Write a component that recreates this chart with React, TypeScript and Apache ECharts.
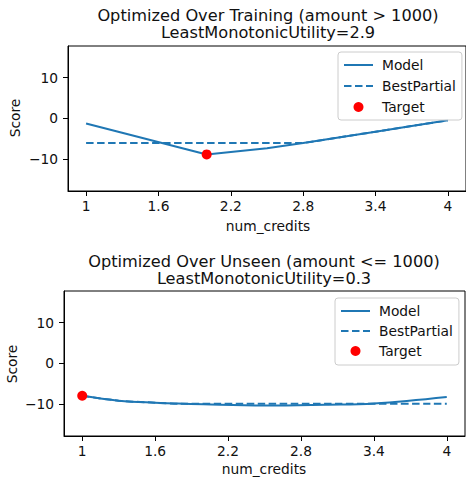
import React, { useEffect, useRef } from "react";
import * as echarts from "echarts";

const xTicks = [1, 1.6, 2.2, 2.8, 3.4, 4];
const yTicks = [-10, 0, 10];

const topX = [1, 2, 2.5, 2.8, 3.4, 4];
const topModel = [-1.3, -8.9, -7.4, -6.1, -3.3, -0.5];
const topBestX = [1, 2.8, 3.4, 4];
const topBest = [-6.1, -6.1, -3.3, -0.5];
const topTarget = [2, -8.9];

const botX = [1, 1.3, 1.6, 2.0, 2.5, 3.0, 3.4, 4];
const botModel = [-8.0, -9.2, -9.7, -10.1, -10.4, -10.2, -9.9, -8.3];
const botBestX = [1, 1.3, 1.6, 1.8, 4];
const botBest = [-8.0, -9.2, -9.7, -9.95, -9.95];
const botTarget = [1, -8.0];

const titles = [
  ["Optimized Over Training (amount > 1000)", "LeastMonotonicUtility=2.9"],
  ["Optimized Over Unseen (amount <= 1000)", "LeastMonotonicUtility=0.3"],
];
const legendNames = ["Model", "BestPartial", "Target"];

const FONT = "DejaVu Sans";
const BLUE = "#1f77b4";
const FS = 13.8;
const TFS = 16.2;

const fmt = (v: number) => (v < 0 ? "\u2212" + Math.abs(v) : String(v));
const zip = (xs: number[], ys: number[]) => xs.map((x, i) => [x, ys[i]]);

export default function App() {
  const ref = useRef<HTMLDivElement>(null);
  useEffect(() => {
    const chart = echarts.init(ref.current!, null, { renderer: "svg" });
    const grids = [
      { left: 68, top: 46, width: 401, height: 145 },
      { left: 64, top: 291, width: 401, height: 145 },
    ];
    const mkX = (i: number) => ({
      type: "value",
      gridIndex: i,
      min: 0.85,
      max: 4.15,
      axisLine: { show: true, onZero: false, lineStyle: { color: "#000", width: 1 } },
      axisTick: { show: true, length: 5, customValues: xTicks, lineStyle: { color: "#000" } },
      axisLabel: {
        customValues: xTicks,
        margin: 8,
        color: "#111",
        fontFamily: FONT,
        fontSize: FS,
        formatter: (v: number) => fmt(v),
      },
      splitLine: { show: false },
    });
    const mkY = (i: number) => ({
      type: "value",
      gridIndex: i,
      min: -17.9,
      max: 17.8,
      axisLine: { show: true, onZero: false, lineStyle: { color: "#000", width: 1 } },
      axisTick: { show: true, length: 5, customValues: yTicks, lineStyle: { color: "#000" } },
      axisLabel: {
        customValues: yTicks,
        margin: 10,
        color: "#111",
        fontFamily: FONT,
        fontSize: FS,
        formatter: (v: number) => fmt(v),
      },
      splitLine: { show: false },
    });
    const mkLegend = (left: number, top: number, gap: number, padding: number[]) => ({
      orient: "vertical",
      left,
      top,
      data: legendNames.map((n) =>
        n === "Target" ? { name: n } : { name: n, itemStyle: { opacity: 0, color: "transparent", borderWidth: 0 } }
      ),
      itemWidth: 29,
      itemHeight: 10,
      itemGap: gap,
      padding,
      backgroundColor: "rgba(255,255,255,0.8)",
      borderColor: "#cccccc",
      borderWidth: 1,
      borderRadius: 3,
      textStyle: { fontFamily: FONT, fontSize: FS, color: "#111", padding: [0, 0, 0, 4] },
    });
    const lineSeries = (name: string, xi: number, data: number[][], dashed: boolean, smooth: any) => ({
      name,
      type: "line",
      xAxisIndex: xi,
      yAxisIndex: xi,
      data,
      symbol: "none",
      smooth,
      lineStyle: { color: BLUE, width: 2, type: dashed ? [7.5, 3.5] : "solid" },
      itemStyle: { color: BLUE },
      z: dashed ? 3 : 2,
    });
    const scatterSeries = (xi: number, pt: number[]) => ({
      name: "Target",
      type: "scatter",
      xAxisIndex: xi,
      yAxisIndex: xi,
      data: [pt],
      symbol: "circle",
      symbolSize: 10,
      itemStyle: { color: "#ff0000", opacity: 1 },
      z: 5,
    });
    const text = (t: string, x: number, y: number, size: number, rot = 0) => ({
      type: "text",
      x,
      y,
      rotation: rot,
      style: {
        text: t,
        fontFamily: FONT,
        fontSize: size,
        fill: "#111",
        textAlign: "center",
        textVerticalAlign: "middle",
        align: "center",
        verticalAlign: "middle",
      },
    });
    chart.setOption({
      animation: false,
      backgroundColor: "#fff",
      grid: grids.map((g) => ({ ...g, show: true, borderColor: "#000", borderWidth: 1, backgroundColor: "transparent" })),
      xAxis: [mkX(0), mkX(1)],
      yAxis: [mkY(0), mkY(1)],
      legend: [mkLegend(338, 52, 7, [6, 6, 6, 5]), mkLegend(335, 298, 6, [6, 6, 7, 5])],
      series: [
        lineSeries("Model", 0, zip(topX, topModel), false, false),
        lineSeries("BestPartial", 0, zip(topBestX, topBest), true, false),
        scatterSeries(0, topTarget),
        lineSeries("Model", 1, zip(botX, botModel), false, 0.4),
        lineSeries("BestPartial", 1, zip(botBestX, botBest), true, 0.3),
        scatterSeries(1, botTarget),
      ],
      graphic: [
        text(titles[0][0], 268, 15.3, TFS),
        text(titles[0][1], 268, 32, TFS),
        text(titles[1][0], 264, 261.7, TFS),
        text(titles[1][1], 264, 278.4, TFS),
        text("num_credits", 268, 226, FS),
        text("num_credits", 264, 469, FS),
        text("Score", 15, 118, FS, Math.PI / 2),
        text("Score", 12, 364, FS, Math.PI / 2),
      ],
    });
    return () => chart.dispose();
  }, []);
  return <div ref={ref} style={{ position: "fixed", left: 0, top: 0, width: 466, height: 479 }} />;
}
